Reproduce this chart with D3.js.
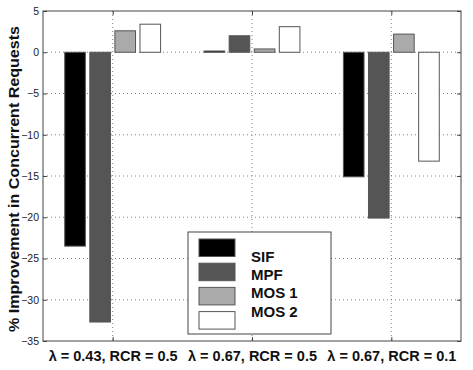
<!DOCTYPE html>
<html>
<head>
<meta charset="utf-8">
<script src="https://cdn.jsdelivr.net/npm/d3@7"></script>
<style>
  body { margin: 0; background: #fff; }
  text { font-family: "Liberation Sans", Arial, Helvetica, sans-serif; }
</style>
</head>
<body>
<div id="chart"></div>
<script>
// data
var groups = ["λ = 0.43, RCR = 0.5", "λ = 0.67, RCR = 0.5", "λ = 0.67, RCR = 0.1"]
var series = ["SIF", "MPF", "MOS 1", "MOS 2"]
var sif  = [-23.5, 0.15, -15.1]
var mpf  = [-32.7, 2.0, -20.1]
var mos1 = [2.6, 0.4, 2.2]
var mos2 = [3.4, 3.1, -13.2]
var yTicks = [5, 0, -5, -10, -15, -20, -25, -30, -35]
var colors = ["#000000", "#555555", "#aaaaaa", "#ffffff"]

var values = [sif, mpf, mos1, mos2]

var svgWidth = 473
var svgHeight = 370
var margin = { top: 11, right: 12, bottom: 29, left: 43 }
var width = svgWidth - margin.left - margin.right
var height = svgHeight - margin.top - margin.bottom

var svg = d3.select("#chart")
  .append("svg")
  .attr("width", svgWidth)
  .attr("height", svgHeight)

var g = svg.append("g")
  .attr("transform", `translate(${margin.left}, ${margin.top})`)

// group position (1..3) like matlab's bar()
var xScale = d3.scaleLinear()
  .domain([0.5, 3.5])
  .range([0, width])

var yScale = d3.scaleLinear()
  .domain([-35, 5])
  .range([height, 0])

var offsets = [-0.27, -0.09, 0.09, 0.27]
var barW = 0.148

// grid
g.append("g")
  .selectAll("line")
  .data(yTicks.slice(1, -1))
  .enter()
  .append("line")
  .attr("x1", 0).attr("x2", width)
  .attr("y1", d => yScale(d)).attr("y2", d => yScale(d))
  .attr("stroke", "#666").attr("stroke-width", 0.8)
  .attr("stroke-dasharray", "1,3")

g.append("g")
  .selectAll("line")
  .data(groups)
  .enter()
  .append("line")
  .attr("x1", (d, i) => xScale(i + 1)).attr("x2", (d, i) => xScale(i + 1))
  .attr("y1", 0).attr("y2", height)
  .attr("stroke", "#666").attr("stroke-width", 0.8)
  .attr("stroke-dasharray", "1,3")

// bars
var flat = []
values.forEach(function(vals, s) {
  vals.forEach(function(v, i) {
    flat.push({ s: s, i: i, v: v })
  })
})

g.append("g")
  .selectAll("rect")
  .data(flat)
  .enter()
  .append("rect")
  .attr("x", d => xScale(d.i + 1 + offsets[d.s] - barW / 2))
  .attr("width", d => xScale(barW) - xScale(0))
  .attr("y", d => yScale(Math.max(0, d.v)))
  .attr("height", d => Math.abs(yScale(d.v) - yScale(0)))
  .attr("fill", d => colors[d.s])
  .attr("stroke", "#555")
  .attr("stroke-width", 1)

// box
g.append("rect")
  .attr("width", width).attr("height", height)
  .attr("fill", "none").attr("stroke", "#444").attr("stroke-width", 1)

// axes, ticks inside
var leftAxis = d3.axisLeft(yScale).tickValues(yTicks).tickSizeInner(-4).tickSizeOuter(0)
  .tickFormat(d => d < 0 ? "\u2212" + Math.abs(d) : d)
var yAx = g.append("g").call(leftAxis)
yAx.select(".domain").remove()
yAx.selectAll("line").attr("stroke", "#444")
yAx.selectAll("text").attr("x", -4).style("font-size", "10.5px").attr("fill", "#222")
  .style("font-family", "'Liberation Sans', Arial, sans-serif")

var rightAxis = d3.axisRight(yScale).tickValues(yTicks).tickSizeInner(-4).tickSizeOuter(0).tickFormat("")
var yAx2 = g.append("g").attr("transform", `translate(${width},0)`).call(rightAxis)
yAx2.select(".domain").remove()
yAx2.selectAll("line").attr("stroke", "#444")

var bottomAxis = d3.axisBottom(xScale).tickValues([1, 2, 3]).tickSizeInner(-4).tickSizeOuter(0)
  .tickFormat((d, i) => groups[i])
var xAx = g.append("g").attr("transform", `translate(0,${height})`).call(bottomAxis)
xAx.select(".domain").remove()
xAx.selectAll("line").attr("stroke", "#444")
xAx.selectAll("text").attr("y", 20).attr("dy", 0)
  .style("font-size", "14.5px").style("font-weight", "bold").attr("fill", "#111")
  .style("font-family", "'Liberation Sans', Arial, sans-serif")

var topAxis = d3.axisTop(xScale).tickValues([1, 2, 3]).tickSizeInner(-4).tickSizeOuter(0).tickFormat("")
var xAx2 = g.append("g").call(topAxis)
xAx2.select(".domain").remove()
xAx2.selectAll("line").attr("stroke", "#444")

// y label
svg.append("text")
  .attr("transform", `translate(19, ${margin.top + height / 2 + 3}) rotate(-90)`)
  .attr("text-anchor", "middle")
  .attr("textLength", 306)
  .attr("lengthAdjust", "spacingAndGlyphs")
  .style("font-size", "15px").style("font-weight", "bold").attr("fill", "#111")
  .text("% Improvement in Concurrent Requests")

// legend
var legend = svg.append("g").attr("transform", "translate(188, 232)")
legend.append("rect")
  .attr("width", 143).attr("height", 102)
  .attr("fill", "#fff").attr("stroke", "#444").attr("stroke-width", 1)

legend.selectAll(".sw")
  .data(series)
  .enter()
  .append("rect")
  .attr("x", 11).attr("y", (d, i) => 7 + i * 24.2)
  .attr("width", 36).attr("height", 17.5)
  .attr("fill", (d, i) => colors[i])
  .attr("stroke", "#555")

legend.selectAll(".lab")
  .data(series)
  .enter()
  .append("text")
  .attr("x", 63).attr("y", (d, i) => 29.7 + i * 18.3)
  .style("font-size", "15px").style("font-weight", "bold").attr("fill", "#111")
  .text(d => d)
</script>
</body>
</html>
